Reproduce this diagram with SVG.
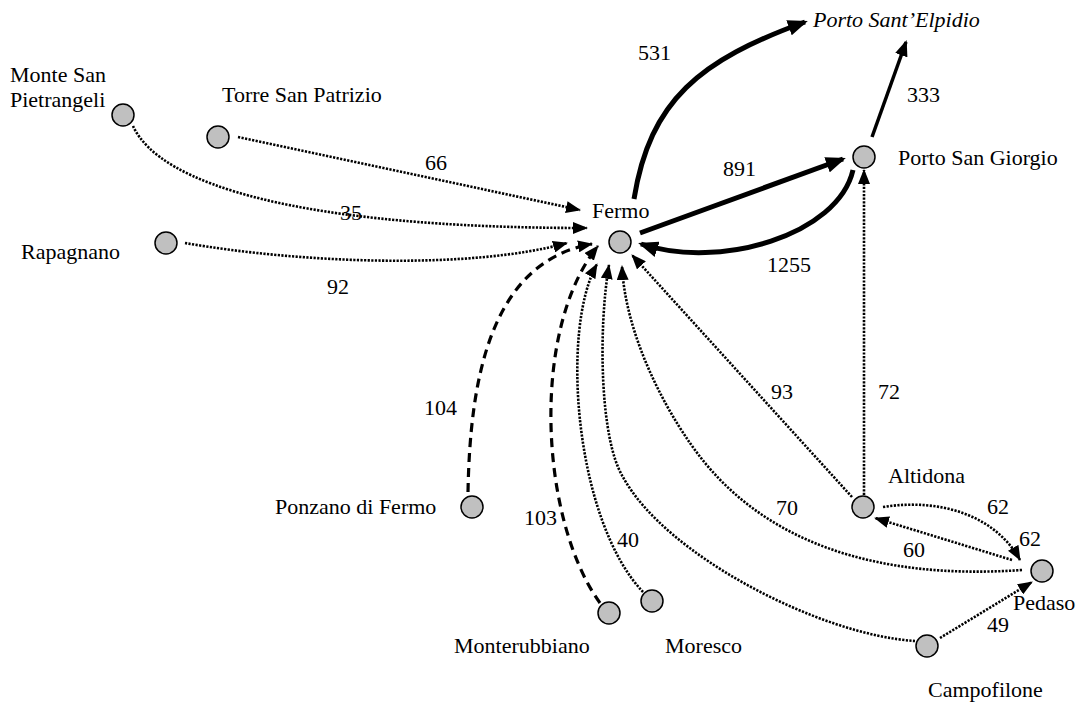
<svg xmlns="http://www.w3.org/2000/svg" width="1080" height="713" viewBox="0 0 1080 713">
<style>
text{font-family:"Liberation Serif","Times New Roman",serif;font-size:22px;fill:#000}
.it{font-style:italic}
.node{fill:#c0c0c0;stroke:#000;stroke-width:1.5}
.dot{fill:none;stroke:#000;stroke-width:2.6;stroke-dasharray:2.2 1.4;marker-end:url(#ah)}
.dash{fill:none;stroke:#000;stroke-width:3.2;stroke-dasharray:9 6;marker-end:url(#ah)}
.thick{fill:none;stroke:#000;stroke-width:5;marker-end:url(#ahb)}
.med{fill:none;stroke:#000;stroke-width:3.5;marker-end:url(#ahm)}
</style>
<defs>
<marker id="ah" markerWidth="15" markerHeight="12" refX="14" refY="6" orient="auto" markerUnits="userSpaceOnUse"><path d="M0,0 L15,6 L0,12 z" fill="#000"/></marker>
<marker id="ahm" markerWidth="16" markerHeight="13" refX="14" refY="6.5" orient="auto" markerUnits="userSpaceOnUse"><path d="M0,0 L16,6.5 L0,13 z" fill="#000"/></marker>
<marker id="ahb" markerWidth="20" markerHeight="16" refX="17" refY="8" orient="auto" markerUnits="userSpaceOnUse"><path d="M0,0 L20,8 L0,16 z" fill="#000"/></marker>
</defs>
<g id="connectors">
<path class="dot" d="M238,137 L580,210"/>
<path class="dot" d="M133,126 C160,185 300,228 587,228"/>
<path class="dot" d="M185,243 C300,263 470,270 567,243"/>
<path class="dash" d="M468,492 C470,380 490,262 592,244"/>
<path class="dash" d="M600,603 C540,520 530,330 598,246"/>
<path class="dot" d="M643,592 C575,520 560,330 597,264"/>
<path class="dot" d="M915,641 C820,635 665,555 623,477 C600,440 598,330 609,265"/>
<path class="dot" d="M1022,570 C880,580 760,545 690,443 C660,400 625,330 622,266"/>
<path class="dot" d="M852,497 L632,255"/>
<path class="dot" d="M864,495 L864,170"/>
<path class="thick" d="M640,233 L843,159"/>
<path class="thick" d="M853,170 C838,235 720,270 641,244"/>
<path class="thick" d="M634,199 C650,100 700,60 805,22"/>
<path class="med" d="M872,137 L906,42"/>
<path class="dot" d="M883,507 C940,498 995,515 1020,560"/>
<path class="dot" d="M1012,560 L875,518"/>
<path class="dot" d="M940,638 L1032,582"/>
</g>
<g id="fermo"><circle class="node" cx="620" cy="242" r="11"/><text x="592" y="218">Fermo</text></g>
<g id="monte-san-pietrangeli"><circle class="node" cx="123" cy="115" r="11"/><text x="10" y="82">Monte San</text><text x="10" y="107">Pietrangeli</text></g>
<g id="torre-san-patrizio"><circle class="node" cx="218" cy="137" r="11"/><text x="222" y="102">Torre San Patrizio</text></g>
<g id="rapagnano"><circle class="node" cx="166" cy="243" r="11"/><text x="21" y="259">Rapagnano</text></g>
<g id="porto-sant-elpidio"><text class="it" x="813" y="27">Porto Sant’Elpidio</text></g>
<g id="porto-san-giorgio"><circle class="node" cx="864" cy="157" r="11"/><text x="898" y="165">Porto San Giorgio</text></g>
<g id="altidona"><circle class="node" cx="863" cy="507" r="11"/><text x="888" y="483">Altidona</text></g>
<g id="pedaso"><circle class="node" cx="1042" cy="571" r="11"/><text x="1013" y="610">Pedaso</text></g>
<g id="campofilone"><circle class="node" cx="927" cy="646" r="11"/><text x="928" y="697">Campofilone</text></g>
<g id="ponzano-di-fermo"><circle class="node" cx="472" cy="507" r="11"/><text x="275" y="514">Ponzano di Fermo</text></g>
<g id="monterubbiano"><circle class="node" cx="609" cy="613" r="11"/><text x="454" y="653">Monterubbiano</text></g>
<g id="moresco"><circle class="node" cx="652" cy="601" r="11"/><text x="665" y="653">Moresco</text></g>
<g id="edge-labels">
<text x="425" y="170">66</text>
<text x="340" y="220">35</text>
<text x="327" y="294">92</text>
<text x="638" y="60">531</text>
<text x="907" y="102">333</text>
<text x="723" y="176">891</text>
<text x="767" y="272">1255</text>
<text x="771" y="399">93</text>
<text x="878" y="399">72</text>
<text x="424" y="415">104</text>
<text x="524" y="525">103</text>
<text x="617" y="547">40</text>
<text x="776" y="515">70</text>
<text x="987" y="514">62</text>
<text x="1019" y="546">62</text>
<text x="903" y="557">60</text>
<text x="987" y="632">49</text>
</g>
</svg>
